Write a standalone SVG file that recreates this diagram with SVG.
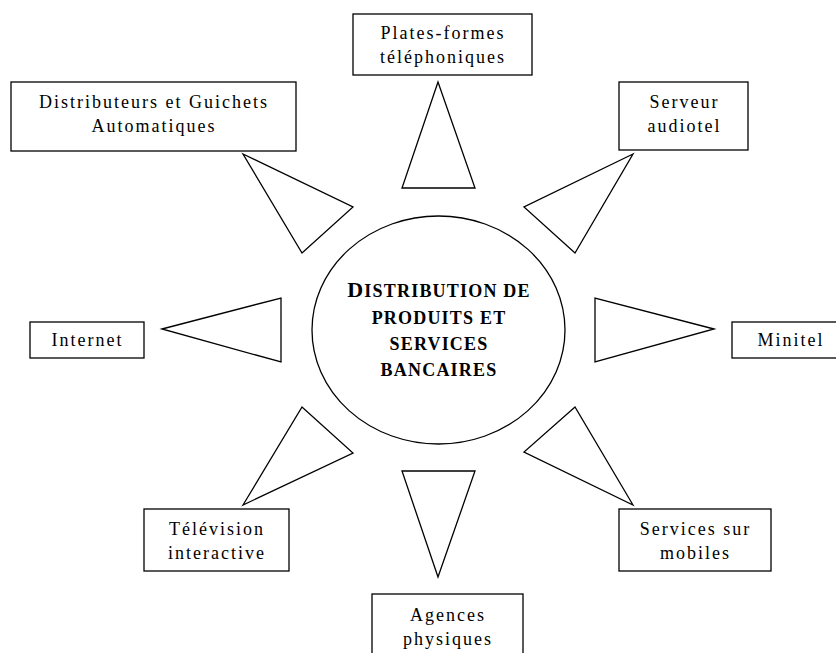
<svg xmlns="http://www.w3.org/2000/svg" width="836" height="653" viewBox="0 0 836 653">
<style>
  .box { fill: #ffffff; stroke: #000000; stroke-width: 1.3; }
  .tri { fill: #ffffff; stroke: #000000; stroke-width: 1.3; stroke-linejoin: miter; }
  .lbl { font-family: "Liberation Serif", "Times New Roman", serif; font-size: 18px; letter-spacing: 2px; fill: #000000; text-anchor: middle; }
  .ctr { font-family: "Liberation Serif", "Times New Roman", serif; font-size: 18px; font-weight: bold; letter-spacing: 1.2px; fill: #000000; text-anchor: middle; }
  .big { font-size: 22px; }
</style>
<rect x="0" y="0" width="836" height="653" fill="#ffffff"/>

<g id="connectors">
  <polygon class="tri" points="438,82 402,188 475,188"/>
  <polygon class="tri" points="243,154 353,207 302,253"/>
  <polygon class="tri" points="633,154 524,207 575,253"/>
  <polygon class="tri" points="162,329 281,298 281,362"/>
  <polygon class="tri" points="714,329 595,298 595,362"/>
  <polygon class="tri" points="243,505 302,407 353,453"/>
  <polygon class="tri" points="633,505 575,407 524,452"/>
  <polygon class="tri" points="438,577 402,471 475,471"/>
</g>

<g id="center">
  <ellipse cx="438.5" cy="330" rx="126.5" ry="114" fill="#ffffff" stroke="#000000" stroke-width="1.3"/>
  <text class="ctr" x="439" y="297"><tspan class="big">D</tspan>ISTRIBUTION DE</text>
  <text class="ctr" x="439" y="323.5">PRODUITS ET</text>
  <text class="ctr" x="439" y="350">SERVICES</text>
  <text class="ctr" x="439" y="376">BANCAIRES</text>
</g>

<g id="plates-formes">
  <rect class="box" x="353" y="14" width="179" height="61"/>
  <text class="lbl" x="443" y="39">Plates-formes</text>
  <text class="lbl" x="443" y="63">téléphoniques</text>
</g>

<g id="distributeurs">
  <rect class="box" x="11" y="82" width="285" height="69"/>
  <text class="lbl" x="154" y="108">Distributeurs et Guichets</text>
  <text class="lbl" x="154" y="132">Automatiques</text>
</g>

<g id="serveur">
  <rect class="box" x="619" y="82" width="129" height="68"/>
  <text class="lbl" x="684.5" y="108">Serveur</text>
  <text class="lbl" x="684.5" y="132">audiotel</text>
</g>

<g id="internet">
  <rect class="box" x="30" y="322" width="114" height="36"/>
  <text class="lbl" x="87.5" y="346">Internet</text>
</g>

<g id="minitel">
  <rect class="box" x="732" y="322" width="112" height="36"/>
  <text class="lbl" x="791" y="346">Minitel</text>
</g>

<g id="television">
  <rect class="box" x="144" y="509" width="145" height="62"/>
  <text class="lbl" x="217" y="535">Télévision</text>
  <text class="lbl" x="217" y="558.5">interactive</text>
</g>

<g id="mobiles">
  <rect class="box" x="619" y="509" width="152" height="62"/>
  <text class="lbl" x="695.5" y="535">Services sur</text>
  <text class="lbl" x="695.5" y="558.5">mobiles</text>
</g>

<g id="agences">
  <rect class="box" x="372" y="594" width="151" height="70"/>
  <text class="lbl" x="448" y="620.5">Agences</text>
  <text class="lbl" x="448" y="644.5">physiques</text>
</g>
</svg>
